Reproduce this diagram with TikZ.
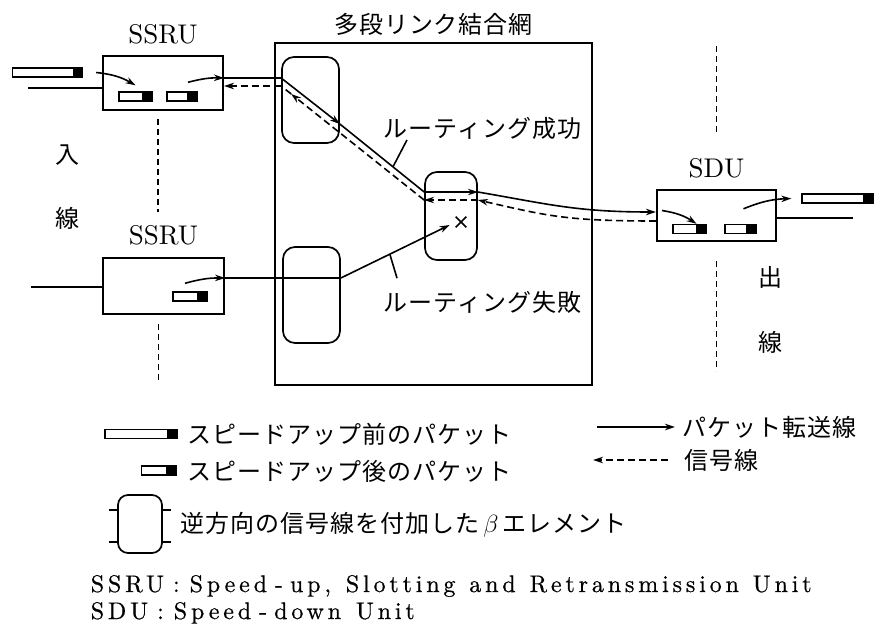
\documentclass[tikz,border=0pt]{standalone}
\usepackage{fontspec}
\setmainfont{lmroman10-regular.otf}
\newfontfamily\jpfont{Noto Sans CJK JP}[LetterSpace=4]
\newfontfamily\widefont{lmroman10-regular.otf}[LetterSpace=16,FakeBold=0.6]
\usetikzlibrary{positioning,arrows.meta,calc,shapes.misc}

\begin{document}
\begin{tikzpicture}[x=1pt,y=-1pt,>={Stealth[length=10pt,width=6.5pt]},line width=1.6pt,
  unit/.style={draw,line width=2pt,inner sep=0},
  elem/.style={draw,rounded corners=12pt,line width=1.7pt,inner sep=0},
  pkt/.style={draw,line width=1.4pt,inner sep=0,minimum height=9pt,
    path picture={\fill ([xshift=-10pt]path picture bounding box.north east) rectangle (path picture bounding box.south east);}},
  longpkt/.style={pkt,minimum width=70pt},
  shortpkt/.style={pkt,minimum width=33pt},
  flow/.style={->},
  sig/.style={dash pattern=on 7pt off 4pt},
  signal/.style={sig,->},
  guide/.style={line width=1.4pt,dash pattern=on 6pt off 4pt},
  jp/.style={font=\jpfont\fontsize{24}{28}\selectfont,inner sep=0},
  lbl/.style={font=\fontsize{27}{30}\selectfont,inner sep=0}]
  \useasboundingbox (0,0) rectangle (882,642);

  % units and the network
  \node[unit,minimum width=120pt,minimum height=54pt] (ssruA) at (163,83) {};
  \node[unit,minimum width=121pt,minimum height=56pt] (ssruB) at (163.5,286) {};
  \node[unit,minimum width=119pt,minimum height=51pt] (sdu) at (716.5,215.5) {};
  \node[lbl] (ssruAlbl) [above=10pt of ssruA] {SSRU};
  \node[lbl] (ssruBlbl) [above=11pt of ssruB] {SSRU};
  \node[lbl] (sduLbl) [above=10pt of sdu] {SDU};
  \node[unit,minimum width=317pt,minimum height=342pt] (net) at (433.5,214) {};
  \node[jp] (netLbl) [above=6pt of net] {多段リンク結合網};
  \node[elem,minimum width=57pt,minimum height=86pt] (betaA) at (310.5,100) {};
  \node[elem,minimum width=52pt,minimum height=88pt] (betaB) at (451,216) {};
  \node[elem,minimum width=57pt,minimum height=96pt] (betaC) at (311.5,295) {};
  \node[cross out,draw,line width=1.6pt,minimum size=9pt,inner sep=0] (xm) at (461,222) {};

  % packets
  \node[longpkt] (pktIn) at (47.5,72.5) {};
  \node[shortpkt] (pA1) at (135.5,96.5) {};
  \node[shortpkt,minimum width=30pt] (pA2) at (182,96.5) {};
  \node[shortpkt,minimum width=34pt] (pB) at (190,296.5) {};
  \node[shortpkt] (pD1) at (689.5,229) {};
  \node[shortpkt,minimum width=31pt] (pD2) at (740.5,229) {};
  \node[longpkt,minimum width=71pt] (pktOut) at (837.5,198.5) {};

  % line sides
  \node[jp] (inJ1) at (67,155) {入};
  \node[jp] (inJ2) at (67,218) {線};
  \node[jp] (outJ1) at (770,277) {出};
  \node[jp] (outJ2) at (770,342) {線};
  \draw[guide] ([xshift=-5pt,yshift=-8pt]ssruA.south) -- ++(0,93);
  \draw[guide] ([xshift=-5pt,yshift=-9pt]ssruB.south) -- ++(0,57);
  \draw[guide] ([yshift=26pt]sduLbl.north) -- ++(0,-89);
  \draw[guide] ([yshift=-19pt]sdu.south) -- ++(0,110);

  % way points
  \coordinate (inA) at (28,88);
  \coordinate (inB) at (31,287);
  \coordinate (outD) at (853,218);
  \coordinate (sA) at ([yshift=5pt]ssruA.east);
  \coordinate (rA) at ([yshift=-3pt]ssruA.east);
  \coordinate (a1) at (sA -| betaA.west);
  \coordinate (d1) at (rA -| betaA.west);
  \coordinate (a2) at ([yshift=-24pt]betaA.east);
  \coordinate (b1) at ([yshift=24pt]betaB.west);
  \coordinate (b2) at ([yshift=24pt]betaB.east);
  \coordinate (c1) at ([yshift=16pt]betaB.west);
  \coordinate (c2) at ([yshift=16pt]betaB.east);
  \coordinate (e1) at ([yshift=3.5pt]sdu.west);
  \coordinate (f1) at ([yshift=-5.5pt]sdu.west);
  \coordinate (sB) at ([yshift=8pt]ssruB.east);
  \coordinate (g1) at (sB -| betaC.east);
  \coordinate (fx) at ([xshift=-6pt,yshift=-3pt]xm.west);

  % inside the units
  \draw (inA) -- (inA -| ssruA.west);
  \draw[flow] ([xshift=13pt]pktIn.east) to[bend left=12] ([yshift=6pt]pA1.north);
  \draw[flow] ([xshift=6pt,yshift=9pt]pA2.north) to[bend left=8] (sA);
  \draw (inB) -- (inB -| ssruB.west);
  \draw[flow] ([xshift=-5pt,yshift=8pt]pB.north) to[bend left=8] (sB);
  \draw[flow] ([xshift=6pt,yshift=5pt]sdu.west) to[bend left=12] ([xshift=7pt]pD1.north);
  \draw[flow] ([xshift=3pt,yshift=15pt]pD2.north) to[bend left=10] ([xshift=-10pt]pktOut.west);
  \draw ([yshift=-2.5pt]sdu.east) -- (outD);

  % routing success
  \draw (sA) -- (a1);
  \draw[flow] (a1) -- (a2);
  \draw (a2) -- (b1);
  \draw[flow] (b1) -- (b2);
  \draw[flow] (b2) .. controls +(70,12) and +(-80,0) .. (e1);
  \draw[signal] (f1) .. controls +(-90,0) and +(70,16) .. (c2);
  \draw[signal] (c2) -- (c1);
  \draw[signal] (c1) -- ($(c1)!0.93!(d1)$);
  \draw[sig] ($(c1)!0.93!(d1)$) -- (d1);
  \draw[signal] (d1) -- (rA);
  \node[jp,anchor=west] (okLbl) at (383,128) {ルーティング成功};
  \draw ($(a2)!0.63!(b1)$) -- ([xshift=24pt]okLbl.south west);

  % routing failure
  \draw (sB) -- (g1);
  \draw[flow] (g1) -- (fx);
  \node[jp,anchor=west] (ngLbl) at (383,302) {ルーティング失敗};
  \draw ($(g1)!0.45!(fx)$) -- ([xshift=14pt,yshift=12pt]ngLbl.north west);

  % legend
  \node[longpkt,minimum width=72pt] (lgLong) at (141,434) {};
  \node[jp,anchor=west] (lgLongTxt) at (187,434) {スピードアップ前のパケット};
  \node[shortpkt,minimum width=35pt,anchor=east] (lgShort) at (177,470.5) {};
  \node[jp,anchor=west] (lgShortTxt) at (187,471) {スピードアップ後のパケット};
  \node[jp,anchor=west] (lgFlowTxt) at (682,427) {パケット転送線};
  \draw[flow] ([xshift=-85pt]lgFlowTxt.west) -- ([xshift=-7pt]lgFlowTxt.west);
  \node[jp,anchor=west] (lgSigTxt) at (684,460) {信号線};
  \draw[signal] ([xshift=-16pt]lgSigTxt.west) -- ([xshift=-91pt]lgSigTxt.west);
  \node[elem,rounded corners=10pt,minimum width=44pt,minimum height=58pt] (lgElem) at (140,524) {};
  \draw ([yshift=14pt]lgElem.west) -- ++(-8,0);
  \draw ([yshift=-18pt]lgElem.west) -- ++(-8,0);
  \draw ([yshift=14pt]lgElem.east) -- ++(8,0);
  \draw ([yshift=-18pt]lgElem.east) -- ++(8,0);
  \node[jp,anchor=west] (lgElemTxt) at (180,525) {逆方向の信号線を付加した\,$\beta$\,エレメント};

  % abbreviations
  \node[anchor=base west,inner sep=0,font=\widefont\fontsize{24}{26}\selectfont] (defSSRU) at (90,592)
    {SSRU\hspace{9pt}:\hspace{10pt}Speed\hspace{8pt}-\hspace{7pt}up, \hspace{3pt}Slotting \hspace{2pt}and \hspace{2pt}Retransmission \hspace{2pt}Unit};
  \node[anchor=base west,inner sep=0,font=\widefont\fontsize{24}{26}\selectfont] (defSDU) at (90,619)
    {SDU\hspace{9pt}:\hspace{10pt}Speed\hspace{8pt}-\hspace{7pt}down \hspace{3pt}Unit};
\end{tikzpicture}
\end{document}
